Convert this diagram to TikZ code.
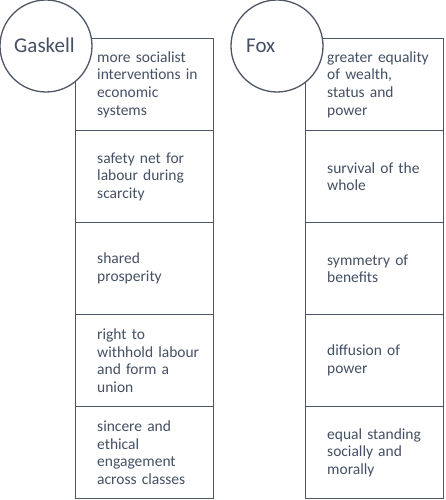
\documentclass[tikz,border=0pt]{standalone}
\usepackage{fontspec}
\setmainfont{Carlito}
\usetikzlibrary{positioning}

\definecolor{framegray}{RGB}{78,86,102}
\definecolor{inkslate}{RGB}{68,80,100}

\tikzset{
    cell/.style={draw=framegray, line width=1.3pt, fill=white, minimum width=138pt, minimum height=92pt, anchor=north west, inner sep=0pt},
    celltext/.style={anchor=west, inner sep=0pt, text width=114pt, align=left, text=inkslate, font=\fontsize{15.5}{17.7}\selectfont},
    author/.style={circle, draw=framegray, line width=1.3pt, fill=white, minimum size=92pt, inner sep=0pt},
    authorname/.style={anchor=base west, inner sep=0pt, text=inkslate, font=\fontsize{21}{25}\selectfont}
}

\begin{document}
\begin{tikzpicture}[x=1pt, y=-1pt]
    \useasboundingbox (0,0) rectangle (445,500);

    % Gaskell column
    \foreach \i/\txt in {1/{more socialist\\interventions in\\economic\\systems},
                         2/{safety net for\\labour during\\scarcity},
                         3/{shared\\prosperity},
                         4/{right to\\withhold labour\\and form a\\union},
                         5/{sincere and\\ethical\\engagement\\across classes}}{
        \node[cell] (gas\i) at (75, {38+(\i-1)*92}) {};
        \node[celltext] (gastext\i) at ([xshift=22pt]gas\i.west) {\txt};
    }

    % Fox column
    \foreach \i/\txt in {1/{greater equality\\of wealth,\\status and\\power},
                         2/{survival of the\\whole},
                         3/{symmetry of\\benefits},
                         4/{diffusion of\\power},
                         5/{equal standing\\socially and\\morally}}{
        \node[cell] (fox\i) at (305, {38+(\i-1)*92}) {};
        \node[celltext] (foxtext\i) at ([xshift=22pt]fox\i.west) {\txt};
    }

    % Author circles on top
    \node[author] (gaskell) at (46,46) {};
    \node[authorname] (gaskellname) at (14,53) {Gaskell};
    \node[author] (fox) at (277,46) {};
    \node[authorname] (foxname) at (246,53) {Fox};
\end{tikzpicture}
\end{document}
